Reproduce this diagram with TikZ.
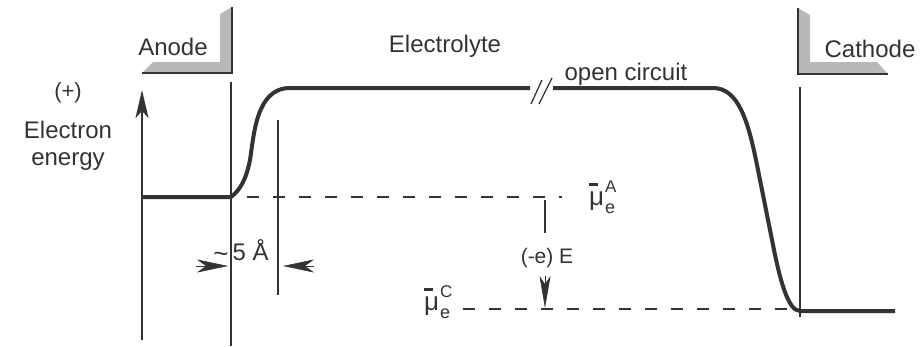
\documentclass[tikz,border=0pt]{standalone}
\usepackage{fontspec}
\setmainfont{Liberation Sans}
\usetikzlibrary{arrows.meta}
\definecolor{ink}{HTML}{333333}
\definecolor{plate}{HTML}{B8B8B8}
\tikzset{
  lbl/.style={font=\fontsize{24}{27}\selectfont, text=ink, inner sep=0pt, anchor=base},
  level/.style={ink, line width=4pt, line join=round},
  guide/.style={ink, line width=1.4pt},
  fermi/.style={ink, line width=1.3pt, dash pattern=on 12pt off 14pt},
  dart/.style={-{Stealth[length=31pt, width=13pt, inset=9pt]}, ink, line width=0.6pt},
}
% electrochemical potential of electrons, bar drawn as a rule
\newcommand{\elpot}[1]{\rlap{\rule[0.75em]{0.32em}{0.08em}}μ\kern1pt%
  \rlap{\raisebox{0.5em}{\fontsize{17}{17}\selectfont #1}}%
  \raisebox{-0.32em}{\fontsize{18}{18}\selectfont e}}
\begin{document}
\begin{tikzpicture}[x=1pt,y=-1pt]
  \useasboundingbox (0,0) rectangle (920,346);
  % electrodes
  \fill[plate] (232,7) -- (232,73) -- (142,73) -- (153,62) -- (220,62) -- (220,14) -- cycle;
  \draw[ink, line width=2pt] (232,7) -- (232,73) -- (142,73);
  \fill[plate] (798,8) -- (798,74) -- (888,74) -- (877,62) -- (810,62) -- (810,15) -- cycle;
  \draw[ink, line width=2pt] (798,8) -- (798,74) -- (888,74);
  \node[lbl] (anode) at (173,55) {Anode};
  \node[lbl] (cathode) at (870,57) {Cathode};
  \node[lbl] (electrolyte) at (445,52) {Electrolyte};
  % axis
  \node[lbl, font=\fontsize{22}{24}\selectfont] (plus) at (68,98) {(+)};
  \node[lbl] (electron) at (68,138) {Electron};
  \node[lbl] (energy) at (68,165) {energy};
  \coordinate (axbot) at (142,340);
  \coordinate (axtop) at (142,90);
  \draw[ink, line width=2.6pt, -{Stealth[length=28pt, width=13pt, inset=7pt]}] (axbot) -- (axtop);
  % interfaces
  \coordinate (ifA) at (231,82);
  \coordinate (ifC) at (800,87);
  \draw[guide] (ifA) -- (231,346);
  \draw[guide] (278,120) -- (278,295);
  \draw[guide] (ifC) -- (800,317);
  % electron energy level
  \draw[level] (142,197) -- (231,197) .. controls (240,190) and (246,180) .. (250,160)
    .. controls (254,135) and (256,88) .. (290,88) -- (530,88);
  \draw[level] (553,88) -- (713,88) .. controls (738,88) and (748,120) .. (757,165)
    -- (773,245) .. controls (780,280) and (788,311) .. (800,311) -- (895,311);
  \draw[guide, line width=1.3pt] (531,104) -- (542,80);
  \draw[guide, line width=1.3pt] (539,104) -- (552,78);
  \node[lbl] (open) at (626,80) {open circuit};
  % electrochemical potentials
  \draw[fermi] (247,197) -- (562,197);
  \draw[fermi] (463,309) -- (790,309);
  \node[lbl, font=\fontsize{26}{30}\selectfont, anchor=base west] (muA) at (589,205) {\elpot{A}};
  \node[lbl, font=\fontsize{26}{30}\selectfont, anchor=base west] (muC) at (424,310) {\elpot{C}};
  \node[lbl, font=\fontsize{21}{24}\selectfont] (emf) at (547,263) {(-e) E};
  \coordinate (emfA) at (545,200);
  \coordinate (emfB) at (545,233);
  \coordinate (emfC) at (545,276);
  \coordinate (emfD) at (545,308);
  \draw[guide] (emfA) -- (emfB);
  \draw[dart, -{Stealth[length=32pt, width=11pt, inset=8pt]}] (emfC) -- (emfD);
  % double layer width
  \node[lbl] (width) at (241,260) {\raisebox{-2pt}{\fontsize{26}{26}\selectfont\textasciitilde}\,5 Å};
  \draw[dart] (196,266) -- (228,266);
  \draw[dart] (314,266) -- (283,266);
\end{tikzpicture}
\end{document}
